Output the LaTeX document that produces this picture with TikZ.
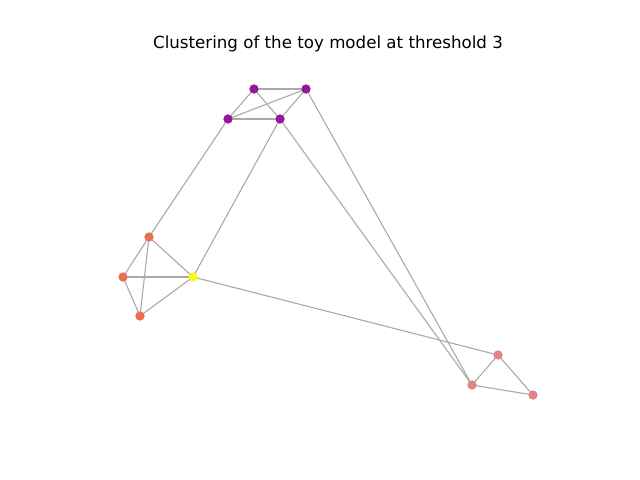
\documentclass[tikz,border=0pt]{standalone}
\usepackage{fontspec}
\setmainfont{DejaVu Sans}
\definecolor{cpurple}{HTML}{9A159F}
\definecolor{corange}{HTML}{E9714F}
\definecolor{cpink}{HTML}{E08484}
\definecolor{cyellow}{HTML}{FCF81C}
\definecolor{cedge}{HTML}{AAAAAA}
\begin{document}
\begin{tikzpicture}[x=0.72pt,y=-0.72pt,
  vtx/.style={circle,inner sep=0pt,minimum size=6.5pt,draw=none},
  edge/.style={draw=cedge,line width=0.8pt}]
\useasboundingbox (0,0) rectangle (640,480);
\node (title) at (328,44) {\fontsize{12pt}{14pt}\selectfont Clustering of the toy model at threshold 3};
\node[vtx,fill=cpurple] (a) at (254,89) {};
\node[vtx,fill=cpurple] (b) at (306,89) {};
\node[vtx,fill=cpurple] (c) at (228,119) {};
\node[vtx,fill=cpurple] (d) at (280,119) {};
\node[vtx,fill=corange] (p) at (149,237) {};
\node[vtx,fill=corange] (q) at (123,277) {};
\node[vtx,fill=corange] (r) at (140,316) {};
\node[vtx,fill=cyellow] (y) at (193,277) {};
\node[vtx,fill=cpink] (s) at (498,355) {};
\node[vtx,fill=cpink] (t) at (472,385) {};
\node[vtx,fill=cpink] (u) at (533,395) {};
\foreach \i/\j in {a/b,a/c,a/d,b/c,b/d,c/d,c/p,d/y,d/t,b/t,p/q,p/r,p/y,q/y,q/r,r/y,y/s,s/t,s/u,t/u}
  \draw[edge] (\i.center) -- (\j.center);
\foreach \n/\c in {a/cpurple,b/cpurple,c/cpurple,d/cpurple,p/corange,q/corange,r/corange,y/cyellow,s/cpink,t/cpink,u/cpink}
  \fill[\c] (\n.center) circle (4.5);
\end{tikzpicture}
\end{document}
